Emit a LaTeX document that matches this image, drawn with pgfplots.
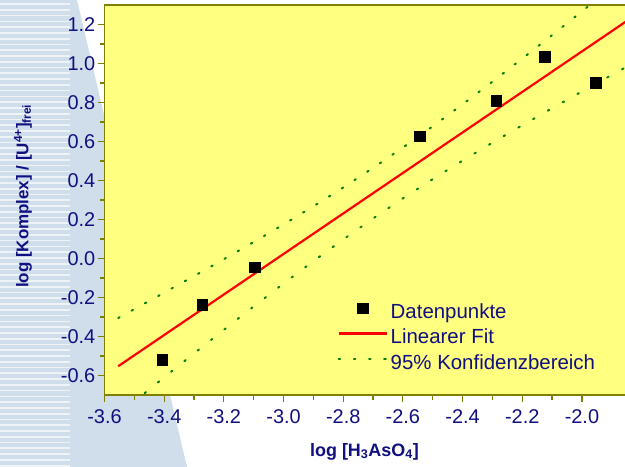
\documentclass[border=0pt]{standalone}
\usepackage{fontspec}
\setmainfont{Liberation Sans}
\usepackage{pgfplots}
\pgfplotsset{compat=1.18}

\definecolor{plotbg}{RGB}{255,255,128}
\definecolor{navytext}{RGB}{16,16,128}
\definecolor{axisolive}{RGB}{128,128,0}
\definecolor{bandgreen}{RGB}{0,128,0}
\definecolor{sidebar}{RGB}{208,221,234}
\definecolor{sidestripe}{RGB}{238,243,248}

\begin{document}
\begin{tikzpicture}
  \path[use as bounding box] (0bp,0bp) rectangle (625bp,467bp);
  \clip (0bp,0bp) rectangle (625bp,467bp);
  % page background with the slanted side bar
  \fill[white] (0bp,0bp) rectangle (625bp,467bp);
  \fill[sidebar] (0bp,467bp) -- (77bp,467bp) -- (187bp,0bp) -- (0bp,0bp) -- cycle;
  \foreach \i in {0,...,80} {
    \fill[sidestripe] (0bp,{(467-3.2-\i*5.77)*1bp}) rectangle (70bp,{(467-4.9-\i*5.77)*1bp});
  }

  \begin{axis}[
    at={(104.5bp,72bp)}, anchor=south west,
    scale only axis, width=537.1bp, height=390bp,
    xmin=-3.6, xmax=-1.8, ymin=-0.7, ymax=1.3,
    axis background/.style={fill=plotbg},
    axis line style={axisolive, line width=1.6bp},
    every tick/.style={axisolive, line width=1.2bp},
    tick align=outside,
    major tick length=7bp, minor tick length=4.5bp,
    xtick={-3.6,-3.4,...,-1.99}, minor x tick num=1,
    ytick={-0.6,-0.4,...,1.21}, minor y tick num=1,
    xtick pos=bottom, ytick pos=left,
    /pgf/number format/assume math mode=true,
    /pgf/number format/.cd, fixed, fixed zerofill, precision=1, /pgfplots/.cd,
    tick label style={font=\fontsize{20}{23}\selectfont, text=navytext},
    xticklabel style={inner sep=2bp, yshift=-5bp},
    yticklabel style={inner sep=2bp},
    xlabel={log [H\textsubscript{3}AsO\textsubscript{4}]},
    ylabel={log [Komplex] / [U\textsuperscript{4+}]\textsubscript{frei}},
    xlabel style={font=\fontsize{18}{21}\selectfont\bfseries, text=navytext,
      at={(axis description cs:0.484,-0.145)}, anchor=center},
    ylabel style={font=\fontsize{17}{20}\selectfont\bfseries, text=navytext,
      at={(axis description cs:-0.152,0.51)}, anchor=center},
    legend style={at={(axis description cs:0.4335,0.237)}, anchor=north west,
      draw=none, fill=none, font=\fontsize{20.5}{23}\selectfont, text=navytext,
      row sep=5.5bp, inner xsep=0pt, inner ysep=0pt,
      nodes={text height=12bp, text depth=4bp, inner ysep=2bp, inner xsep=3bp}},
    legend cell align=left,
    legend image code/.code={
      \draw[mark repeat=2, mark phase=2, yshift=6bp, #1]
        plot coordinates {(0bp,0bp) (24bp,0bp) (48bp,0bp)};},
  ]
    % measured complex formation data
    \addplot[only marks, mark=square*, mark size=5.3bp, black] table {
      x       y
      -3.406  -0.520
      -3.272  -0.236
      -3.096  -0.044
      -2.543   0.627
      -2.287   0.808
      -2.124   1.034
      -1.953   0.902
    };
    \addlegendentry{Datenpunkte}

    % least-squares line: y = 3.1395 + 1.0388 x
    \addplot[red, line width=2.2bp] coordinates {(-3.554,-0.5524) (-1.8,1.2697)};
    \addlegendentry{Linearer Fit}

    % 95 % confidence limits of the fitted line
    \addplot[bandgreen, line width=2bp, line cap=round,
             dash pattern=on 1.6bp off 13.6bp] table {
      x       y
      -3.554  -0.3049
      -3.5    -0.2596
      -3.4    -0.1753
      -3.3    -0.0901
      -3.2    -0.0036
      -3.1     0.0844
      -3.0     0.1747
      -2.9     0.2676
      -2.8     0.3640
      -2.7     0.4643
      -2.6     0.5690
      -2.5     0.6779
      -2.4     0.7907
      -2.3     0.9067
      -2.2     1.0250
      -2.1     1.1454
      -2.0     1.2672
      -1.9     1.3901
      -1.8     1.5139
    };
    \addlegendentry{95\% Konfidenzbereich}

    \addplot[bandgreen, line width=2bp, line cap=round,
             dash pattern=on 1.6bp off 15.4bp, forget plot] table {
      x       y
      -3.554  -0.7999
      -3.5    -0.7330
      -3.4    -0.6095
      -3.3    -0.4869
      -3.2    -0.3658
      -3.1    -0.2460
      -3.0    -0.1285
      -2.9    -0.0136
      -2.8     0.0978
      -2.7     0.2051
      -2.6     0.3082
      -2.5     0.4071
      -2.4     0.5021
      -2.3     0.5939
      -2.2     0.6832
      -2.1     0.7706
      -2.0     0.8566
      -1.9     0.9415
      -1.8     1.0255
    };
  \end{axis}
\end{tikzpicture}
\end{document}
